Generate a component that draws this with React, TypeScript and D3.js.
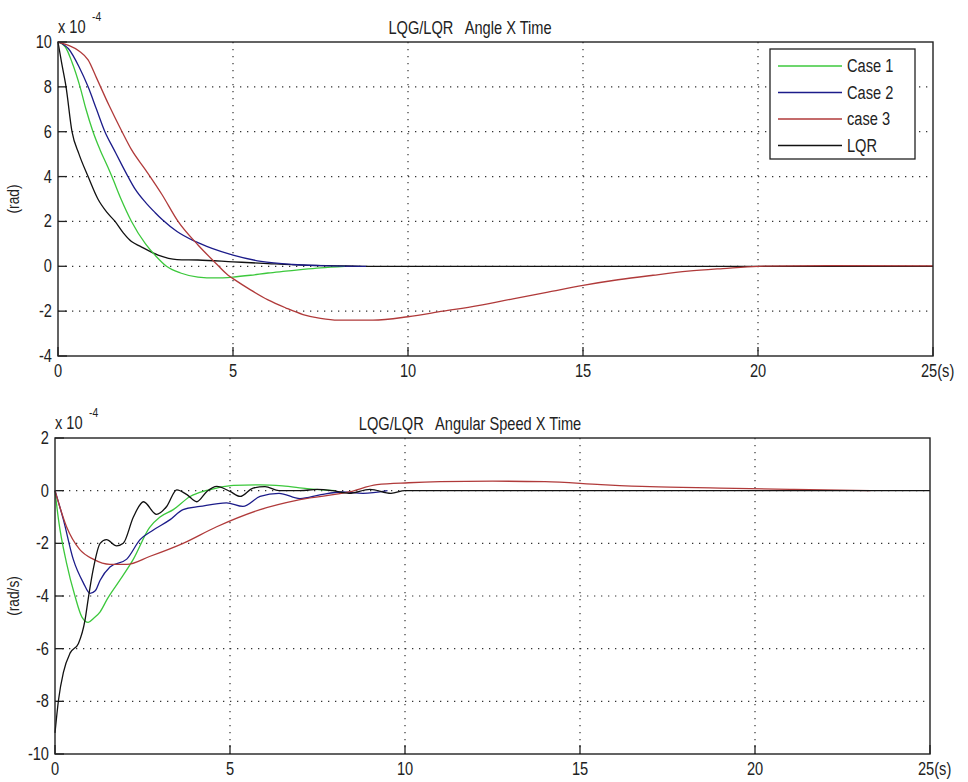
import React from 'react';
import * as d3 from 'd3';

// time (s), value (x 1e-4)
const case1Angle = [[0,10],[0.2,9.8],[0.4,9.1],[0.63,8],[0.8,7],[1.0,6],[1.2,5.2],[1.43,4.4],[1.54,4],[1.8,3],[2.1,2],[2.5,1],[2.8,0.45],[3.1,0],[3.5,-0.3],[4.0,-0.48],[4.5,-0.52],[5.0,-0.48],[5.5,-0.4],[6.0,-0.3],[6.5,-0.22],[7.0,-0.14],[7.5,-0.07],[8.2,0]];
const case2Angle = [[0,10],[0.3,9.7],[0.6,8.9],[0.86,8],[1.1,7],[1.34,6],[1.6,5.2],[1.83,4.5],[2.0,4.0],[2.2,3.45],[2.5,2.85],[2.77,2.4],[3.0,2.05],[3.4,1.55],[3.9,1.12],[4.4,0.8],[5.0,0.5],[5.8,0.22],[6.7,0.08],[7.5,0.03],[8.8,0]];
const case3Angle = [[0,10],[0.3,9.85],[0.6,9.6],[0.86,9.2],[1.1,8.4],[1.45,7.2],[1.83,6.0],[2.1,5.2],[2.5,4.3],[2.97,3.2],[3.43,2.0],[4.0,0.95],[4.5,0.15],[4.86,-0.4],[5.0,-0.55],[5.5,-1.05],[6.0,-1.5],[6.5,-1.85],[7.0,-2.15],[7.5,-2.32],[8.0,-2.4],[9.0,-2.4],[10,-2.25],[11,-2.0],[12,-1.75],[13,-1.45],[14,-1.15],[15,-0.85],[16,-0.6],[17,-0.4],[18,-0.22],[19,-0.1],[20,0],[22,0.03],[25,0.02]];
const lqrAngle = [[0,10],[0.1,9.1],[0.23,8],[0.4,6],[0.6,5],[0.86,4],[1.14,3],[1.4,2.4],[1.63,2],[1.86,1.5],[2.1,1.1],[2.34,0.9],[2.86,0.5],[3.4,0.3],[4,0.28],[5,0.2],[6,0.12],[7,0.05],[8,0.02],[8.7,0],[25,0]];

const case1Speed = [[0,0],[0.1,-1.1],[0.33,-2.75],[0.57,-4.0],[0.77,-4.8],[0.95,-5.0],[1.1,-4.85],[1.29,-4.6],[1.5,-4.1],[1.8,-3.5],[2.24,-2.6],[2.7,-1.4],[3.0,-1.0],[3.38,-0.72],[3.86,-0.22],[4.3,0.0],[4.62,0.1],[5.1,0.2],[5.86,0.22],[6.5,0.18],[7.2,0.08],[8,0]];
const case2Speed = [[0,0],[0.24,-1.1],[0.52,-2.6],[0.81,-3.5],[1.0,-3.9],[1.15,-3.8],[1.29,-3.4],[1.57,-2.9],[2.05,-2.6],[2.43,-1.86],[2.8,-1.5],[3.29,-1.1],[3.66,-0.72],[4.14,-0.6],[4.9,-0.46],[5.37,-0.6],[5.86,-0.22],[6.4,-0.1],[7.0,-0.3],[7.6,-0.15],[8.2,-0.05],[8.8,-0.1],[9.5,0]];
const case3Speed = [[0,0],[0.33,-1.37],[0.71,-2.24],[1.09,-2.6],[1.57,-2.8],[2.05,-2.8],[2.7,-2.5],[3.66,-2.0],[4.62,-1.37],[5.86,-0.72],[7,-0.34],[8.4,-0.05],[9.2,0.23],[10.1,0.3],[11,0.34],[12.5,0.36],[14,0.34],[15.6,0.23],[17,0.15],[19,0.1],[21,0.05],[23.3,0]];
const lqrSpeed = [[0,-9.2],[0.1,-7.95],[0.24,-6.9],[0.43,-6.17],[0.67,-5.8],[0.86,-4.9],[0.95,-4.1],[1.09,-3.0],[1.29,-2.0],[1.47,-1.86],[1.76,-2.1],[1.95,-2.0],[2.24,-1.0],[2.53,-0.42],[2.9,-0.9],[3.19,-0.6],[3.48,0.03],[3.77,-0.15],[4.05,-0.42],[4.34,-0.03],[4.62,0.16],[5.0,-0.03],[5.29,-0.22],[5.66,0.1],[6.0,0.15],[6.4,0],[7.0,0.0],[7.5,0.05],[7.94,0.0],[8.4,-0.1],[9.0,0.05],[9.6,-0.1],[10,0],[25,0]];

const xTicks = [0, 5, 10, 15, 20, 25];
const angleTicks = [-4, -2, 0, 2, 4, 6, 8, 10];
const speedTicks = [-10, -8, -6, -4, -2, 0, 2];
const legendNames = ['Case 1', 'Case 2', 'case 3', 'LQR'];

const colors = { c1: '#3cc83c', c2: '#1c1c8a', c3: '#b03a3a', lqr: '#111' };
const font = '"Liberation Sans", Arial, sans-serif';

function Txt({ x, y, children, anchor = 'start', size = 17, rotate = 0 }) {
  return (
    <text transform={`translate(${x},${y}) rotate(${rotate}) scale(0.86,1.05)`}
      textAnchor={anchor} fontFamily={font} fontSize={size} fill="#222"
      style={{ whiteSpace: 'pre' }}>{children}</text>
  );
}

function Panel({ box, yDomain, yTicks, series, title, titleX, ylabel, legend }) {
  const x = d3.scaleLinear().domain([0, 25]).range([box.left, box.right]);
  const y = d3.scaleLinear().domain(yDomain).range([box.bottom, box.top]);
  const line = d3.line().x(d => x(d[0])).y(d => y(d[1])).curve(d3.curveMonotoneX);
  const midY = (box.top + box.bottom) / 2;
  return (
    <g>
      {xTicks.slice(1, -1).map(t => (
        <line key={'gx' + t} x1={x(t)} x2={x(t)} y1={box.top} y2={box.bottom}
          stroke="#333" strokeWidth={1.2} strokeDasharray="1.3 5.7" />
      ))}
      {yTicks.slice(1, -1).map(t => (
        <line key={'gy' + t} x1={box.left} x2={box.right} y1={y(t)} y2={y(t)}
          stroke="#333" strokeWidth={1.2} strokeDasharray="1.3 5.7" />
      ))}
      {yTicks.map(t => (
        <line key={'ty' + t} x1={box.left} x2={box.left + 9} y1={y(t)} y2={y(t)} stroke="#222" strokeWidth={1.3} />
      ))}
      {xTicks.map(t => (
        <line key={'tx' + t} x1={x(t)} x2={x(t)} y1={box.bottom} y2={box.bottom - 9} stroke="#222" strokeWidth={1.3} />
      ))}
      {series.map(s => (
        <path key={s.key} d={line(s.data)} fill="none" stroke={s.color} strokeWidth={1.3} />
      ))}
      <rect x={box.left} y={box.top} width={box.right - box.left} height={box.bottom - box.top}
        fill="none" stroke="#222" strokeWidth={1.4} />
      {yTicks.map(t => (
        <Txt key={'ly' + t} x={box.left - 6} y={y(t) + 6} anchor="end">{t}</Txt>
      ))}
      {xTicks.map(t => (
        t === 25
          ? <Txt key={'lx' + t} x={x(t) - 12} y={box.bottom + 21}>25(s)</Txt>
          : <Txt key={'lx' + t} x={x(t)} y={box.bottom + 21} anchor="middle">{t}</Txt>
      ))}
      <Txt x={box.left} y={box.top - 9}>x 10</Txt>
      <Txt x={box.left + 34} y={box.top - 21} size={12}>-4</Txt>
      <Txt x={titleX} y={box.top - 8} anchor="middle" size={17}>{title}</Txt>
      <Txt x={19} y={midY} anchor="middle" rotate={-90} size={16}>{ylabel}</Txt>
      {legend && (
        <g>
          <rect x={770} y={49} width={145} height={110} fill="#fff" stroke="#222" strokeWidth={1.3} />
          {series.slice().sort((a, b) => a.order - b.order).map((s, i) => (
            <g key={'lg' + s.key}>
              <line x1={778} x2={842} y1={66 + i * 26.5} y2={66 + i * 26.5} stroke={s.color} strokeWidth={1.3} />
              <Txt x={847} y={72 + i * 26.5}>{legendNames[s.order]}</Txt>
            </g>
          ))}
        </g>
      )}
    </g>
  );
}

export default function App() {
  const topSeries = [
    { key: 'lqr', data: lqrAngle, color: colors.lqr, order: 3 },
    { key: 'c1', data: case1Angle, color: colors.c1, order: 0 },
    { key: 'c2', data: case2Angle, color: colors.c2, order: 1 },
    { key: 'c3', data: case3Angle, color: colors.c3, order: 2 },
  ];
  const bottomSeries = [
    { key: 'c1', data: case1Speed, color: colors.c1, order: 0 },
    { key: 'c2', data: case2Speed, color: colors.c2, order: 1 },
    { key: 'c3', data: case3Speed, color: colors.c3, order: 2 },
    { key: 'lqr', data: lqrSpeed, color: colors.lqr, order: 3 },
  ];
  return (
    <svg width={968} height={782} style={{ position: 'absolute', left: 0, top: 0, background: '#fff' }}>
      <rect width={968} height={782} fill="#fff" />
      <Panel box={{ left: 58, right: 933, top: 42, bottom: 356 }} yDomain={[-4, 10]} yTicks={angleTicks}
        series={topSeries} title="LQG/LQR   Angle X Time" titleX={470} ylabel="(rad)" legend />
      <Panel box={{ left: 55, right: 930, top: 438, bottom: 754 }} yDomain={[-10, 2]} yTicks={speedTicks}
        series={bottomSeries} title="LQG/LQR   Angular Speed X Time" titleX={470} ylabel="(rad/s)" />
    </svg>
  );
}
